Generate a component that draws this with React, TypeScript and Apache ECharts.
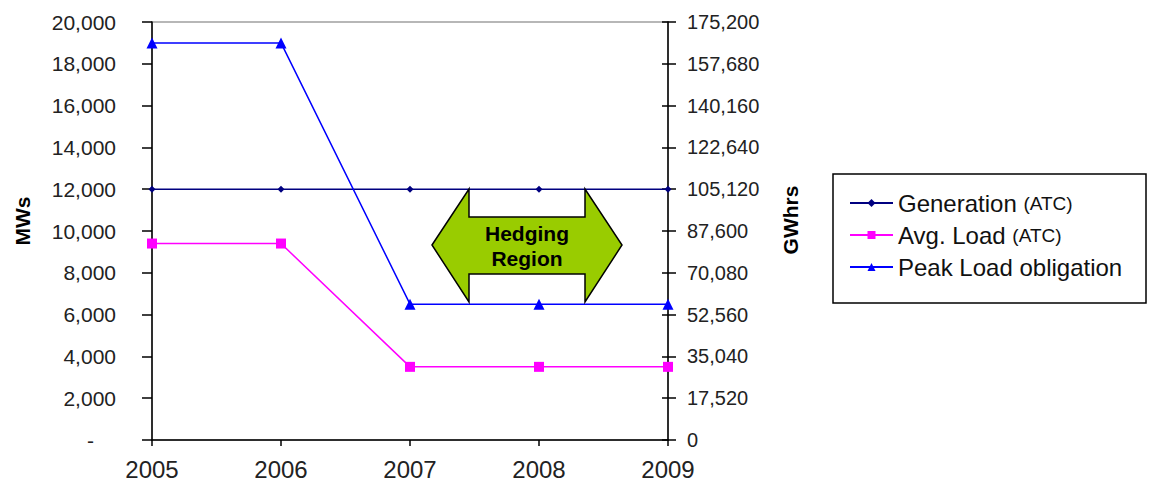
import React, { useEffect, useRef } from "react";
import * as echarts from "echarts";

const years = ["2005", "2006", "2007", "2008", "2009"];
const generation = [12000, 12000, 12000, 12000, 12000];
const avgLoad = [9400, 9400, 3500, 3500, 3500];
const peakLoad = [19000, 19000, 6500, 6500, 6500];
const seriesNames = ["Generation (ATC)", "Avg. Load (ATC)", "Peak Load obligation"];
const seriesColors = ["#000080", "#ff00ff", "#0000ff"];
const seriesSymbols = ["diamond", "rect", "triangle"];
const seriesSymbolSizes = [7, 10, 11];
const mwMax = 20000;
const mwInterval = 2000;
const gwhMax = 175200;
const gwhInterval = 17520;
const leftTitle = "MWs";
const rightTitle = "GWhrs";
const hedgeLabel = "Hedging\nRegion";

const FONT = 'Arial, "Liberation Sans", sans-serif';

export default function App() {
  const ref = useRef<HTMLDivElement>(null);
  useEffect(() => {
    if (!ref.current) return;
    const chart = echarts.init(ref.current, null, { renderer: "svg" });
    const dataSets = [generation, avgLoad, peakLoad];
    const option: any = {
      animation: false,
      backgroundColor: "#ffffff",
      textStyle: { fontFamily: FONT },
      grid: {
        left: 152,
        right: 481,
        top: 22,
        bottom: 47,
        show: true,
        borderColor: "#a0a0a0",
        borderWidth: 1.5,
        backgroundColor: "transparent",
      },
      xAxis: {
        type: "category",
        data: years,
        boundaryGap: false,
        axisLine: { show: true, lineStyle: { color: "#000", width: 1.5 } },
        axisTick: { show: true, length: 6, lineStyle: { color: "#000", width: 1.5 } },
        axisLabel: { fontSize: 24, color: "#222", margin: 17, fontFamily: FONT },
        splitLine: { show: false },
      },
      yAxis: [
        {
          type: "value",
          position: "left",
          min: 0,
          max: mwMax,
          interval: mwInterval,
          axisLine: { show: true, lineStyle: { color: "#000", width: 1.5 } },
          axisTick: { show: true, length: 10, lineStyle: { color: "#000", width: 1.5 } },
          axisLabel: {
            fontSize: 21,
            color: "#222",
            margin: 36,
            fontFamily: FONT,
            formatter: (v: number) => (v === 0 ? "{d|-}" : v.toLocaleString("en-US")),
            rich: { d: { fontSize: 21, color: "#222", fontFamily: FONT, padding: [0, 22, 0, 0] } },
          },
          splitLine: { show: false },
        },
        {
          type: "value",
          position: "right",
          min: 0,
          max: gwhMax,
          interval: gwhInterval,
          axisLine: { show: true, lineStyle: { color: "#000", width: 1.5 } },
          axisTick: { show: true, length: 8, lineStyle: { color: "#000", width: 1.5 } },
          axisLabel: {
            fontSize: 20,
            color: "#222",
            margin: 19,
            fontFamily: FONT,
            formatter: (v: number) => v.toLocaleString("en-US"),
          },
          splitLine: { show: false },
        },
        {
          type: "value",
          position: "right",
          min: 0,
          max: gwhMax,
          interval: gwhInterval,
          axisLine: { show: false },
          axisTick: { show: true, inside: true, length: 6, lineStyle: { color: "#000", width: 1.5 } },
          axisLabel: { show: false },
          splitLine: { show: false },
        },
      ],
      legend: {
        data: seriesNames,
        orient: "vertical",
        left: 849,
        top: 191,
        padding: 0,
        itemWidth: 43,
        itemHeight: 10,
        itemGap: 8,
        textStyle: {
          fontSize: 24,
          lineHeight: 24,
          color: "#111",
          fontFamily: FONT,
          rich: { s: { fontSize: 19, color: "#111", fontFamily: FONT } },
        },
        formatter: (name: string) => name.replace("(ATC)", "{s|(ATC)}"),
      },
      series: seriesNames.map((name, i) => ({
        name,
        type: "line",
        yAxisIndex: 0,
        data: dataSets[i],
        symbol: seriesSymbols[i],
        symbolSize: seriesSymbolSizes[i],
        lineStyle: { color: seriesColors[i], width: 1.5 },
        itemStyle: { color: seriesColors[i] },
        z: 3,
      })),
      graphic: [
        {
          type: "rect",
          shape: { x: 833, y: 174, width: 313, height: 129 },
          style: { fill: "none", stroke: "#000", lineWidth: 1.5 },
          silent: true,
        },
        {
          type: "text",
          x: 22,
          y: 221,
          rotation: Math.PI / 2,
          style: {
            text: leftTitle,
            fontSize: 21,
            fontWeight: "bold",
            fontFamily: FONT,
            fill: "#000",
            align: "center",
            verticalAlign: "middle",
          },
        },
        {
          type: "text",
          x: 790,
          y: 220,
          rotation: Math.PI / 2,
          style: {
            text: rightTitle,
            fontSize: 21,
            fontWeight: "bold",
            fontFamily: FONT,
            fill: "#000",
            align: "center",
            verticalAlign: "middle",
          },
        },
        {
          type: "polygon",
          z: 10,
          shape: {
            points: [
              [432, 245],
              [469, 189],
              [469, 217],
              [585, 217],
              [585, 189],
              [622, 245],
              [585, 302],
              [585, 274],
              [469, 274],
              [469, 302],
            ],
          },
          style: { fill: "#99cc00", stroke: "#000", lineWidth: 1.5 },
        },
        {
          type: "text",
          z: 11,
          x: 527,
          y: 246,
          style: {
            text: hedgeLabel,
            fontSize: 21,
            lineHeight: 25,
            fontWeight: "bold",
            fontFamily: FONT,
            fill: "#000",
            align: "center",
            verticalAlign: "middle",
          },
        },
      ],
    };
    chart.setOption(option);
    return () => chart.dispose();
  }, []);
  return (
    <div
      ref={ref}
      style={{ position: "fixed", left: 0, top: 0, width: 1149, height: 487, background: "#fff" }}
    />
  );
}
